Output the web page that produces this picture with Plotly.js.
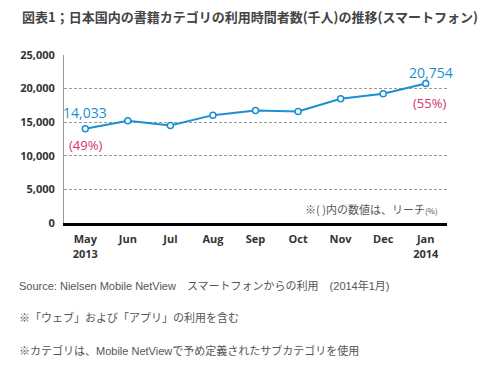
<!DOCTYPE html>
<html>
<head>
<meta charset="utf-8">
<script src="https://cdn.plot.ly/plotly-3.0.1.min.js"></script>
<style>html,body{margin:0;padding:0;background:#fff;}#chart{width:484px;height:365px;}</style>
</head>
<body>
<div id="chart"></div>
<script>
// Data
const months = ["May<br>2013", "Jun", "Jul", "Aug", "Sep", "Oct", "Nov", "Dec", "Jan<br>2014"];
const users = [14033, 15200, 14500, 16050, 16750, 16600, 18500, 19250, 20754];
const reachLabels = ["(49%)", "", "", "", "", "", "", "", "(55%)"];
const valueLabels = ["14,033", "", "", "", "", "", "", "", "20,754"];
const yTicks = [0, 5000, 10000, 15000, 20000, 25000];
const titleText = "図表1；日本国内の書籍カテゴリの利用時間者数(千人)の推移(スマートフォン)";
const noteText = "※( )内の数値は、リーチ<span style='font-size:8px'>(%)</span>";
const footnotes = [
  "Source: Nielsen Mobile NetView　スマートフォンからの利用　(2014年1月)",
  "※「ウェブ」および「アプリ」の利用を含む",
  "※カテゴリは、Mobile NetViewで予め定義されたサブカテゴリを使用"
];

const blue = "#1b8fd2";
const red = "#d6336b";
const cjk = "'Noto Sans CJK JP', sans-serif";
const tickFont = "'Open Sans', 'Liberation Sans', sans-serif";

const trace = {
  x: months,
  y: users,
  type: "scatter",
  mode: "lines+markers",
  line: {color: blue, width: 2},
  marker: {size: 6, color: "#ffffff", line: {color: blue, width: 1.5}},
  hoverinfo: "skip",
  cliponaxis: false
};

const annotations = [];
const first = 0, last = months.length - 1;
annotations.push({x: months[first], y: users[first], xref: "x", yref: "y", text: valueLabels[first], showarrow: false,
  yshift: 16, xshift: 0, font: {family: tickFont, size: 14, color: blue}});
annotations.push({x: months[first], y: users[first], xref: "x", yref: "y", text: reachLabels[first], showarrow: false,
  yshift: -16, xshift: 0, font: {family: tickFont, size: 13, color: red}});
annotations.push({x: months[last], y: users[last], xref: "x", yref: "y", text: valueLabels[last], showarrow: false,
  yshift: 11, xshift: 5, font: {family: tickFont, size: 14, color: blue}});
annotations.push({x: months[last], y: users[last], xref: "x", yref: "y", text: reachLabels[last], showarrow: false,
  yshift: -19, xshift: 4, font: {family: tickFont, size: 13, color: red}});
annotations.push({x: 0.982, y: 0.082, xref: "paper", yref: "paper", xanchor: "right", yanchor: "middle",
  text: noteText, showarrow: false, font: {family: cjk, size: 11, color: "#555"}});
const footY = [-0.3715, -0.562, -0.759];
footnotes.forEach((t, i) => {
  annotations.push({x: -47/383, y: footY[i], xref: "paper", yref: "paper", xanchor: "left", yanchor: "middle",
    text: t, showarrow: false, font: {family: "'Liberation Sans', 'Noto Sans CJK JP', sans-serif", size: 11, color: "#555"}});
});

const layout = {
  width: 484, height: 365,
  margin: {l: 64, r: 37, t: 55, b: 142},
  paper_bgcolor: "#fff", plot_bgcolor: "#fff",
  showlegend: false,
  title: {text: titleText, x: 22/484, xanchor: "left", xref: "container", y: 1 - 17/365, yanchor: "middle", yref: "container",
    font: {family: cjk, size: 13, color: "#444", weight: "bold"}},
  xaxis: {
    type: "category", range: [-0.5, 8.5], showgrid: false, zeroline: false,
    showline: true, linecolor: "#000", linewidth: 3, ticks: "",
    tickfont: {family: tickFont, size: 11, color: "#333", weight: "bold"},
    ticklabelstandoff: 4,
    fixedrange: true
  },
  yaxis: {
    range: [0, 25000], tickvals: yTicks, tickformat: ",d",
    showgrid: true, gridcolor: "#999", griddash: "3px,2px", gridwidth: 1,
    zeroline: false, showline: true, linecolor: "#999", linewidth: 1, ticks: "",
    tickfont: {family: tickFont, size: 11, color: "#333", weight: "bold"},
    ticklabelstandoff: 6,
    fixedrange: true
  },
  annotations: annotations
};

Plotly.newPlot("chart", [trace], layout, {displayModeBar: false, staticPlot: true});
</script>
</body>
</html>
